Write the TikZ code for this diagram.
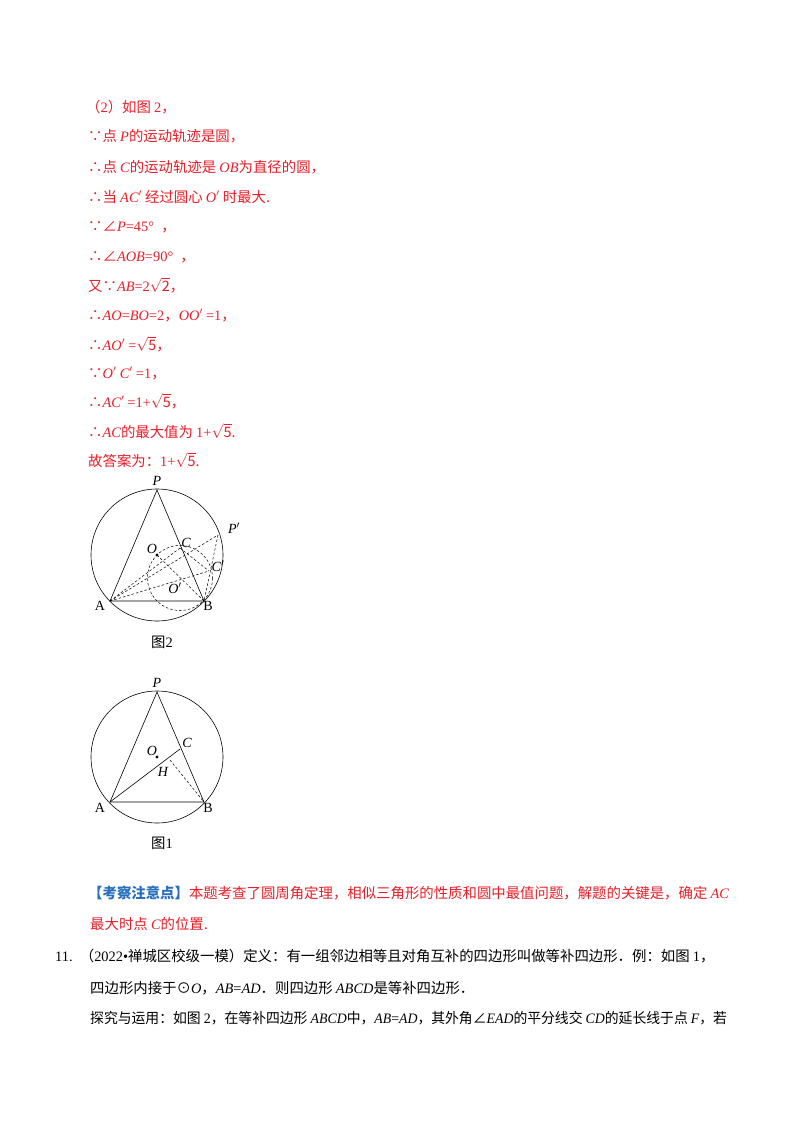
\documentclass[tikz,border=0pt]{standalone}
\usepackage{fontspec}
\setmainfont{Noto Sans CJK SC}
\newfontfamily\lserif{Liberation Serif}
\newcommand\mv[1]{{\lserif\itshape #1}}
\newcommand\nm[1]{{\lserif #1}}
\newcommand\rt[1]{$\sqrt{\mathrm{#1}}$}
\definecolor{myred}{RGB}{232,30,40}
\definecolor{myblue}{RGB}{40,110,190}
\begin{document}
\begin{tikzpicture}[x=1pt,y=-1pt,
  txt/.style={anchor=base west,inner sep=0pt,font=\fontsize{14.4}{14.4}\selectfont},
  rtxt/.style={txt,text=myred},
  lab/.style={inner sep=0pt,font=\fontsize{14}{14}\selectfont\lserif\itshape},
  labu/.style={inner sep=0pt,font=\fontsize{14}{14}\selectfont\lserif},
  fig/.style={line width=0.6pt},
  dsh/.style={line width=0.5pt,dashed,dash pattern=on 2.5pt off 2pt}]
\useasboundingbox (0,0) rectangle (800,1132);
\fill[white] (0,0) rectangle (800,1132);
% text
\node[rtxt] (t1) at (86,112) {（\nm{2}）如图 \nm{2}，};
\node[rtxt] (t2) at (88,141) {∵点 \mv{P}的运动轨迹是圆，};
\node[rtxt] (t3) at (88,172) {∴点 \mv{C}的运动轨迹是 \mv{OB}为直径的圆，};
\node[rtxt] (t4) at (88,202) {∴当 \mv{AC$'$} 经过圆心 \mv{O$'$} 时最大.};
\node[rtxt] (t5) at (88,231) {∵∠\mv{P}\nm{=45°}\enspace ，};
\node[rtxt] (t6) at (88,261) {∴∠\mv{AOB}\nm{=90°}\enspace ，};
\node[rtxt] (t7) at (88,291) {又∵\mv{AB}\nm{=2}\rt{2}，};
\node[rtxt] (t8) at (88,320) {∴\mv{AO}\nm{=}\mv{BO}\nm{=2}，\mv{OO$'$} \nm{=1}，};
\node[rtxt] (t9) at (88,350) {∴\mv{AO$'$} \nm{=}\rt{5}，};
\node[rtxt] (t10) at (88,378) {∵\mv{O$'$ C$'$} \nm{=1}，};
\node[rtxt] (t11) at (88,407) {∴\mv{AC$'$} \nm{=1+}\rt{5}，};
\node[rtxt] (t12) at (88,437) {∴\mv{AC}的最大值为 \nm{1+}\rt{5}.};
\node[rtxt] (t13) at (88,466) {故答案为：\nm{1+}\rt{5}.};
% figure 2
\coordinate (o2) at (157,555);
\coordinate (P2) at (157,490);
\coordinate (A2) at (110,601);
\coordinate (B2) at (204,601);
\coordinate (Oc2) at (180,578);
\coordinate (C2) at (180,548);
\coordinate (Cp2) at (209,571);
\coordinate (Pp2) at (218,535);
\draw[fig] (o2) circle (66);
\draw[fig] (A2) -- (P2) -- (B2) -- cycle;
\draw[dsh] (Oc2) circle (32.5);
\draw[dsh] (A2) -- (C2);
\draw[dsh] (A2) -- (Pp2);
\draw[dsh] (A2) -- (Cp2);
\draw[dsh] (Pp2) -- (B2);
\draw[dsh] (o2) -- (B2);
\draw[dsh] (C2) -- (Cp2);
\fill (o2) circle (1.6);
\node[lab] (lP2) at (157,481) {P};
\node[lab] (lPp2) at (234,528) {P$'$};
\node[lab] (lC2) at (186,543) {C};
\node[lab] (lCp2) at (218,566) {C$'$};
\node[lab] (lO2) at (152,549) {O};
\node[lab] (lOc2) at (175,588) {O$'$};
\node[labu] (lA2) at (100,606) {A};
\node[labu] (lB2) at (208,606) {B};
\node[txt,anchor=center] (cap2) at (162,642) {图\nm{2}};
% figure 1
\coordinate (o1) at (157,757);
\coordinate (P1) at (157,692);
\coordinate (A1) at (110,802);
\coordinate (B1) at (204,802);
\coordinate (C1) at (180,749);
\coordinate (H1) at (170,760);
\draw[fig] (o1) circle (66);
\draw[fig] (A1) -- (P1) -- (B1) -- cycle;
\draw[fig] (A1) -- (C1);
\draw[dsh] (H1) -- (B1);
\fill (o1) circle (1.6);
\node[lab] (lP1) at (157,683) {P};
\node[lab] (lC1) at (187,743) {C};
\node[lab] (lO1) at (152,751) {O};
\node[lab] (lH1) at (163,772) {H};
\node[labu] (lA1) at (100,808) {A};
\node[labu] (lB1) at (208,808) {B};
\node[txt,anchor=center] (cap1) at (162,843) {图\nm{1}};
% bottom text
\node[rtxt] (b1) at (88,898) {\textcolor{myblue}{\bfseries 【考察注意点】}本题考查了圆周角定理，相似三角形的性质和圆中最值问题，解题的关键是，确定 \mv{AC}};
\node[rtxt] (b2) at (90,929) {最大时点 \mv{C}的位置.};
\node[txt] (b3) at (55,961) {\nm{11.}\enspace（\nm{2022•}禅城区校级一模）定义：有一组邻边相等且对角互补的四边形叫做等补四边形．例：如图 \nm{1}，};
\node[txt] (b4) at (90,993) {四边形内接于⊙\mv{O}，\mv{AB}\nm{=}\mv{AD}．则四边形 \mv{ABCD}是等补四边形．};
\node[txt,xscale=0.96] (b5) at (90,1023) {探究与运用：如图 \nm{2}，在等补四边形 \mv{ABCD}中，\mv{AB}\nm{=}\mv{AD}，其外角∠\mv{EAD}的平分线交 \mv{CD}的延长线于点 \mv{F}，若};
\end{tikzpicture}
\end{document}
